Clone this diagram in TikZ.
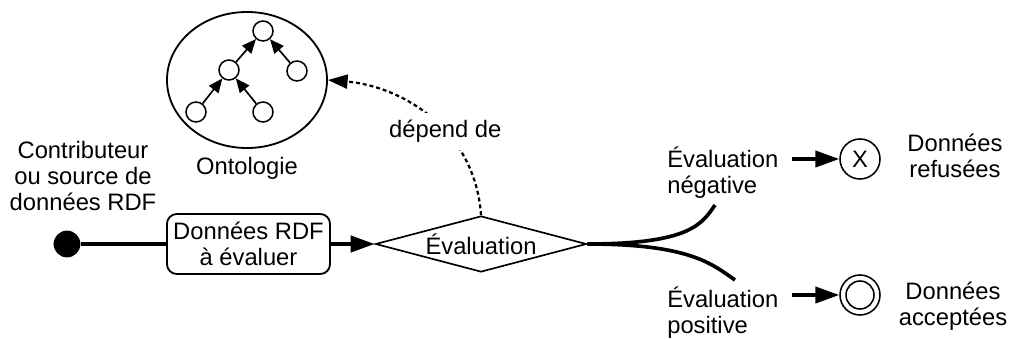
\documentclass[tikz,border=0pt]{standalone}
\usepackage{fontspec}
\setmainfont{Liberation Sans}
\usetikzlibrary{shapes.geometric, arrows.meta, positioning}

\begin{document}
\begin{tikzpicture}[x=0.025cm, y=0.025cm, font=\fontsize{16.9}{18.5}\selectfont,
	lbl/.style={align=center, inner sep=0},
	leaf/.style={draw, circle, line width=1.1pt, minimum size=0.5cm, inner sep=0},
	fin/.style={draw, circle, line width=1.1pt, minimum size=1cm, inner sep=0},
	flow/.style={line width=2.6pt},
	bigtip/.style={-{Triangle[length=17pt, width=11.5pt]}},
	treetip/.style={line width=1.2pt, -{Triangle[length=10pt, width=8.5pt]}},
	deptip/.style={line width=1.6pt, dash pattern=on 2.8pt off 2.1pt,
		-{Triangle[length=14pt, width=10pt]}}]
	\useasboundingbox (0,0) rectangle (1011,338);
	% ontologie
	\node[draw, ellipse, line width=1.3pt, minimum width=4cm, minimum height=3.4cm] (onto) at (247,258) {};
	\node[leaf] (t1) at (263,307) {};
	\node[leaf] (t2) at (229,268) {};
	\node[leaf] (t3) at (297,267) {};
	\node[leaf] (t4) at (196,226) {};
	\node[leaf] (t5) at (263,226) {};
	\draw[treetip] (t2) -- (t1);
	\draw[treetip] (t3) -- (t1);
	\draw[treetip] (t4) -- (t2);
	\draw[treetip] (t5) -- (t2);
	\node[lbl] (ontoL) at (247,170) {Ontologie};
	% flux principal
	\node[lbl] (contrib) at (83,162) {Contributeur\\ou source de\\données RDF};
	\node[circle, fill, minimum size=0.67cm, inner sep=0] (src) at (67,94) {};
	\node[draw, rounded corners=7pt, line width=1.3pt, minimum width=4.075cm,
		minimum height=1.5cm, align=center, inner sep=0] (rdf) at (248.5,94) {Données RDF\\à évaluer};
	\node[draw, diamond, aspect=3.7, minimum width=5.275cm, minimum height=1.4cm,
		inner sep=0, line width=1.2pt] (eval) at (481,94) {Évaluation};
	\draw[flow] (src) -- (rdf);
	\draw[flow, bigtip] (rdf) -- (eval);
	\draw[deptip] (eval.north) .. controls (475,210) and (400,252) .. node[pos=0.4, fill=white, inner sep=5pt] (dep) {dépend de} (onto.east);
	% sorties
	\coordinate (negEnd) at (715,133);
	\coordinate (posEnd) at (735,58);
	\draw[flow] (eval.east) .. controls (690,94) and (702,114) .. (negEnd);
	\draw[flow] (eval.east) .. controls (690,94) and (712,74) .. (posEnd);
	\node[lbl, align=left, anchor=west] (neg) at (667,165) {Évaluation\\négative};
	\node[lbl, align=left, anchor=west] (pos) at (667,25) {Évaluation\\positive};
	\node[fin] (refus) at (860,179) {X};
	\node[fin] (acc) at (860,43) {};
	\node[leaf, minimum size=0.7cm] (accIn) at (acc) {};
	\coordinate (negOut) at (792,179);
	\coordinate (posOut) at (792,43);
	\draw[flow, bigtip] (negOut) -- (refus);
	\draw[flow, bigtip] (posOut) -- (acc);
	\node[lbl] (refusL) at (955,182) {Données\\refusées};
	\node[lbl] (accL) at (953,32) {Données\\acceptées};
\end{tikzpicture}
\end{document}
